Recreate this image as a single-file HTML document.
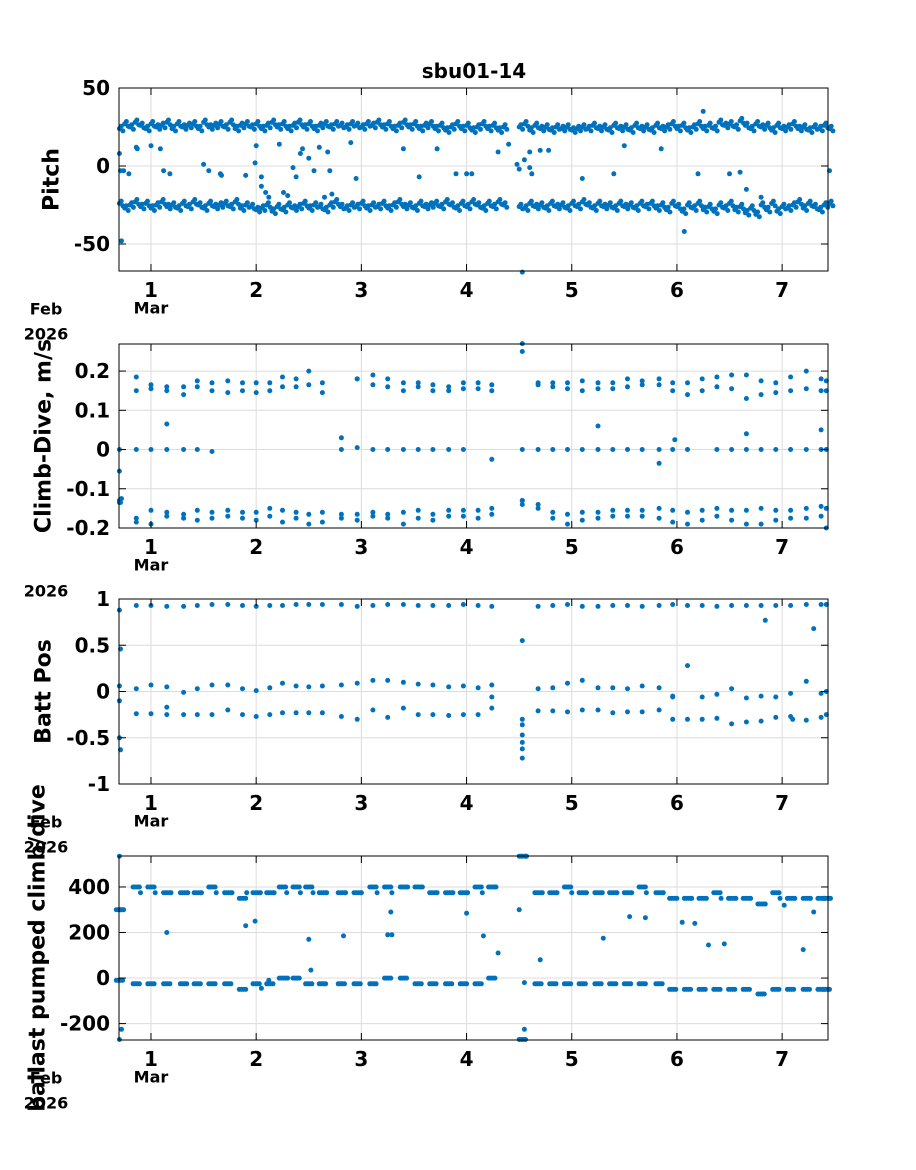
<!DOCTYPE html>
<html><head><meta charset="utf-8"><style>
html,body{margin:0;padding:0;background:#fff;}
svg{display:block;font-family:"DejaVu Sans","Liberation Sans",sans-serif;font-weight:bold;}
</style></head><body>
<svg id="c" width="916" height="1170" viewBox="0 0 916 1170"></svg>
<script>
// ---------- data ----------
const bandT0 = 0.70, bandStep = 0.05;
const pitchUpper = [24,27,25,28,26,24,27,25,26,28,24,27,25,26,27,24,28,25,26,27,
25,28,24,26,27,25,27,24,26,28,25,27,24,26,28,25,27,24,26,27,
25,27,26,25,27,26,25,27,26,28,25,27,24,26,28,25,27,24,26,27,
24,26,23,25,27,24,26,23,25,27,24,26,23,25,null,null,25,27,23,26,
24,25,23,25,24,25,23,24,25,24,26,24,25,23,26,24,25,23,26,24,
25,23,26,24,25,27,24,26,23,25,27,24,26,24,28,26,27,25,29,26,
24,27,25,26,23,26,24,25,27,24,25,23,25,24,26,24];
const pitchLower = [-24,-27,-25,-23,-26,-24,-27,-25,-23,-26,-25,-27,-24,-26,-23,-25,-27,-24,-26,-25,
-24,-26,-23,-27,-25,-26,-28,-27,-25,-29,-26,-28,-25,-27,-26,-24,-27,-25,-26,-28,
-25,-23,-26,-27,-25,-26,-24,-27,-25,-26,-24,-27,-25,-23,-26,-25,-27,-24,-26,-25,
-24,-26,-23,-25,-27,-24,-26,-23,-25,-27,-24,-26,-23,-25,null,null,-26,-27,-24,-26,
-25,-27,-24,-26,-25,-27,-24,-26,-23,-25,-27,-24,-26,-25,-27,-24,-26,-25,-27,-24,
-26,-24,-27,-25,-28,-24,-26,-29,-25,-27,-24,-28,-26,-29,-25,-27,-24,-28,-26,-30,
-27,-31,-25,-28,-24,-29,-26,-27,-25,-23,-27,-24,-26,-28,-25,-24];
const pitchOutT = [0.70,0.71,0.72,0.74,0.79,0.86,0.87,1.0,1.09,1.12,1.18,1.5,1.55,1.66,1.67,1.9,1.99,2.0,2.05,2.05,2.09,2.12,2.22,2.26,2.3,2.35,2.38,2.42,2.44,2.5,2.55,2.6,2.65,2.68,2.7,2.72,2.9,2.95,3.4,3.55,3.72,3.9,4.0,4.05,4.3,4.4,4.48,4.5,4.53,4.55,4.6,4.7,4.78,5.1,5.4,5.5,5.85,6.07,6.2,6.25,6.5,6.6,6.66,6.8,7.45,4.6,4.62];
const pitchOutV = [8,-3,-48,-3,-5,12,11,13,11,-3,-5,1,-3,-5,-6,-6,2,13,-7,-13,-17,-20,14,-17,-19,-1,-7,8,11,5,-3,12,-20,9,-3,-18,15,-8,11,-7,11,-5,-5,-5,9,14,1,-2,-68,4,9,10,10,-8,-5,13,11,-42,-5,35,-5,-4,-15,-20,-3,-1,-5];

const diveT = [0.70,0.86,1.0,1.15,1.31,1.44,1.58,1.73,1.87,2.0,2.13,2.25,2.38,2.5,2.63,2.81,2.96,3.11,3.25,3.40,3.54,3.68,3.83,3.97,4.11,4.24,4.53,4.68,4.82,4.96,5.10,5.25,5.39,5.53,5.67,5.83,5.96,6.10,6.24,6.38,6.52,6.66,6.80,6.94,7.08,7.23,7.37,7.42];
const climbTop1 = [null,0.185,0.165,0.16,0.16,0.175,0.17,0.175,0.17,0.17,0.17,0.185,0.18,0.2,0.17,null,0.18,0.19,0.18,0.17,0.17,0.165,0.16,0.17,0.17,0.165,0.27,0.17,0.17,0.17,0.175,0.17,0.17,0.18,0.175,0.18,0.17,0.17,0.18,0.185,0.19,0.19,0.175,0.17,0.185,0.2,0.18,0.175];
const climbTop2 = [null,0.15,0.155,0.15,0.14,0.16,0.15,0.145,0.15,0.145,0.15,0.16,0.16,0.165,0.145,null,0.18,0.165,0.16,0.15,0.16,0.15,0.15,0.155,0.155,0.15,0.25,0.165,0.16,0.155,0.15,0.155,0.155,0.16,0.165,0.165,0.15,0.14,0.15,0.16,0.155,0.13,0.14,0.145,0.15,0.155,0.15,0.15];
const climbBot1 = [-0.13,-0.175,-0.155,-0.16,-0.165,-0.155,-0.16,-0.155,-0.16,-0.16,-0.15,-0.155,-0.16,-0.165,-0.16,-0.165,-0.165,-0.16,-0.165,-0.16,-0.155,-0.165,-0.155,-0.155,-0.155,-0.15,-0.13,-0.14,-0.16,-0.165,-0.16,-0.16,-0.155,-0.155,-0.155,-0.15,-0.155,-0.16,-0.155,-0.15,-0.155,-0.155,-0.15,-0.155,-0.155,-0.15,-0.145,-0.15];
const climbBot2 = [-0.135,-0.185,-0.19,-0.17,-0.175,-0.18,-0.175,-0.17,-0.175,-0.18,-0.17,-0.185,-0.175,-0.19,-0.185,-0.175,-0.18,-0.17,-0.175,-0.19,-0.175,-0.18,-0.17,-0.17,-0.175,-0.165,-0.14,-0.15,-0.175,-0.19,-0.18,-0.175,-0.17,-0.17,-0.17,-0.175,-0.185,-0.19,-0.18,-0.17,-0.18,-0.19,-0.19,-0.18,-0.175,-0.175,-0.17,-0.2];
const climbMid = [0,0,0,0,0,0,-0.005,null,null,null,null,null,null,null,null,0,0.005,0,0,0,0,0,0,0,null,null,0,0,0,0,0,0,0,0,0,0,0,0,null,0,0,0,0,0,0,0,0,0];
const climbOutT = [0.70,0.71,0.72,1.15,2.81,4.24,4.53,5.25,5.83,5.98,6.66,7.37];
const climbOutV = [-0.055,-0.135,-0.125,0.065,0.03,-0.025,-0.13,0.06,-0.035,0.025,0.04,0.05];

const battTop = [0.88,0.93,0.93,0.92,0.92,0.93,0.94,0.94,0.93,0.92,0.93,0.93,0.94,0.94,0.94,0.94,0.92,0.93,0.94,0.94,0.93,0.93,0.93,0.94,0.93,0.92,0.55,0.92,0.93,0.94,0.92,0.92,0.93,0.93,0.92,0.93,0.94,0.93,0.93,0.92,0.93,0.93,0.93,0.93,0.93,0.94,0.94,0.94];
const battMid = [0.06,0.03,0.07,0.05,-0.01,0.03,0.07,0.07,0.03,0.01,0.04,0.09,0.06,0.05,0.06,0.07,0.09,0.12,0.12,0.10,0.08,0.07,0.05,0.06,0.04,0.07,-0.36,0.03,0.04,0.09,0.12,0.04,0.04,0.03,0.06,0.04,-0.06,0.28,-0.06,-0.03,0.03,-0.07,-0.05,-0.06,-0.02,0.11,-0.02,0];
const battLow = [-0.1,-0.24,-0.24,-0.25,-0.25,-0.25,-0.25,-0.2,-0.25,-0.27,-0.25,-0.23,-0.23,-0.23,-0.23,-0.27,-0.3,-0.2,-0.28,-0.18,-0.25,-0.25,-0.26,-0.25,-0.25,-0.18,-0.62,-0.21,-0.21,-0.22,-0.2,-0.2,-0.23,-0.22,-0.22,-0.2,-0.3,-0.3,-0.3,-0.29,-0.35,-0.33,-0.32,-0.28,-0.27,-0.31,-0.28,-0.25];
const battOutT = [0.71,0.70,0.71,4.53,4.53,4.53,4.53,6.84,7.3,1.15,4.24,5.96,7.1];
const battOutV = [0.46,-0.5,-0.63,-0.47,-0.55,-0.72,-0.3,0.77,0.68,-0.17,-0.06,-0.05,-0.3];

const ballastTop = [300,400,400,375,375,375,400,375,350,375,375,400,400,400,375,375,375,400,400,400,400,375,375,375,400,400,535,375,375,400,375,375,375,375,400,375,350,350,350,375,350,350,325,375,350,350,350,350];
const ballastTop2 = [300,375,375,375,375,375,375,375,375,375,375,375,375,375,375,375,375,375,375,400,400,375,375,375,375,400,535,375,375,375,375,375,375,375,375,375,350,350,350,350,350,350,325,350,350,350,350,350];
const ballastBot = [-10,-25,-25,-25,-25,-25,-25,-25,-50,-25,-25,0,0,-25,-25,-25,-25,-25,0,0,-25,-25,-25,-25,-25,0,-270,-25,-25,-25,-25,-25,-25,-25,-25,-25,-50,-50,-50,-50,-50,-50,-70,-50,-50,-50,-50,-50];
const ballastOutT = [0.70,0.71,0.72,0.70,1.15,1.9,1.99,2.5,2.52,2.83,3.25,3.28,3.29,4.0,4.16,4.3,4.5,4.55,4.55,4.7,5.3,5.55,5.7,6.05,6.17,6.3,6.45,7.02,7.2,7.3,4.56,4.52,2.3,2.05,2.12];
const ballastOutV = [535,300,-225,-270,200,230,250,170,35,185,190,290,190,285,185,110,300,-225,-20,80,175,270,265,245,240,145,150,320,125,290,535,535,0,-45,-10];

const xTicks = [1,2,3,4,5,6,7];
// ---------- drawing ----------
const svg = document.getElementById('c');
const NS = 'http://www.w3.org/2000/svg';
const X0 = 119, X1 = 828, TMIN = 0.696, TMAX = 7.436;
const color = '#0072BD';
function xs(t){ return X0 + (t - TMIN) / (TMAX - TMIN) * (X1 - X0); }
function mk(tag, attrs, parent){
  const e = document.createElementNS(NS, tag);
  for (const k in attrs) e.setAttribute(k, attrs[k]);
  (parent || svg).appendChild(e);
  return e;
}
function txt(s, x, y, size, anchor, parent, rot){
  const e = mk('text', {x:x, y:y, 'font-size':size, 'text-anchor':anchor||'middle', 'dominant-baseline':'central', fill:'#000'}, parent);
  if (rot) e.setAttribute('transform', 'rotate(-90 '+x+' '+y+')');
  e.textContent = s;
  return e;
}
const title = txt('sbu01-14', 474, 71, 20, 'middle');



function panel(name, top, bot, ymin, ymax, yticks, ylabels, ylabel, ylx, showFeb, show2026){
  const g = mk('g', {});
  
  
  const ys = v => bot - (v - ymin) / (ymax - ymin) * (bot - top);
  const grid = mk('g', {stroke:'#dcdcdc', 'stroke-width':1}, g);
  
  
  xTicks.forEach(t => mk('line', {x1:xs(t), x2:xs(t), y1:top, y2:bot}, grid));
  yticks.forEach(v => mk('line', {x1:X0, x2:X1, y1:ys(v), y2:ys(v)}, grid));
  const pts = mk('g', {fill:color}, g);
  
  
  const dot = (t, v) => { if (v === null || v === undefined) return;
    const y = ys(v); if (y < top - 3 || y > bot + 3) return;
    mk('circle', {cx:xs(t).toFixed(1), cy:y.toFixed(1), r:2.5}, pts); };
  const box = mk('rect', {x:X0, y:top, width:X1-X0, height:bot-top, fill:'none', stroke:'#000', 'stroke-width':1}, g);
  
  
  const ticks = mk('g', {stroke:'#000', 'stroke-width':1}, g);
  xTicks.forEach(t => { mk('line', {x1:xs(t), x2:xs(t), y1:bot, y2:bot-7}, ticks); mk('line', {x1:xs(t), x2:xs(t), y1:top, y2:top+7}, ticks); });
  yticks.forEach(v => { mk('line', {x1:X0, x2:X0+7, y1:ys(v), y2:ys(v)}, ticks); mk('line', {x1:X1, x2:X1-7, y1:ys(v), y2:ys(v)}, ticks); });
  const lab = mk('g', {}, g);
  
  
  yticks.forEach((v,i) => txt(ylabels[i], 110, ys(v), 20, 'end', lab));
  xTicks.forEach(t => txt(String(t), xs(t), bot + 19, 20, 'middle', lab));
  txt('Mar', xs(1), bot + 37, 16, 'middle', lab);
  if (showFeb) txt('Feb', 46, bot + 38, 16, 'middle', lab);
  if (show2026) txt('2026', 46, bot + 63, 16, 'middle', lab);
  const yl = txt(ylabel, ylx, (top+bot)/2, 22, 'middle', g, true);
  
  
  return {dot, ys};
}

// Pitch
const p1 = panel('pitch', 88, 271, -67.3, 50, [50,0,-50], ['50','0','-50'], 'Pitch', 52, true, true);
[pitchUpper, pitchLower].forEach(arr => {
  arr.forEach((v,i) => {
    if (v === null) return;
    p1.dot(bandT0 + i*bandStep, v);
    p1.dot(bandT0 + (i+0.33)*bandStep, v + 1.5);
    p1.dot(bandT0 + (i+0.66)*bandStep, v - 1.5);
  });
});
pitchOutT.forEach((t,i) => p1.dot(t, pitchOutV[i]));

// Climb-Dive
const p2 = panel('climb-dive', 344, 528, -0.2, 0.269, [0.2,0.1,0,-0.1,-0.2], ['0.2','0.1','0','-0.1','-0.2'], 'Climb-Dive, m/s', 44, false, true);
diveT.forEach((t,i) => { p2.dot(t, climbTop1[i]); p2.dot(t, climbTop2[i]); p2.dot(t, climbBot1[i]); p2.dot(t, climbBot2[i]); p2.dot(t, climbMid[i]); });
climbOutT.forEach((t,i) => p2.dot(t, climbOutV[i]));

// Batt Pos
const p3 = panel('batt-pos', 599, 784, -1, 1, [1,0.5,0,-0.5,-1], ['1','0.5','0','-0.5','-1'], 'Batt Pos', 44, true, true);
diveT.forEach((t,i) => { p3.dot(t, battTop[i]); p3.dot(t, battMid[i]); p3.dot(t, battLow[i]); });
battOutT.forEach((t,i) => p3.dot(t, battOutV[i]));

// Ballast
const p4 = panel('ballast', 856, 1040, -272, 536, [400,200,0,-200], ['400','200','0','-200'], 'ballast pumped climb/dive', 38, true, true);
diveT.forEach((t,i) => { [-0.03,-0.01,0.01,0.03].forEach(d => { p4.dot(t+d, ballastTop[i]); p4.dot(t+d, ballastBot[i]); }); p4.dot(t+0.04, ballastTop2[i]); });
ballastOutT.forEach((t,i) => p4.dot(t, ballastOutV[i]));
</script>
</body></html>
